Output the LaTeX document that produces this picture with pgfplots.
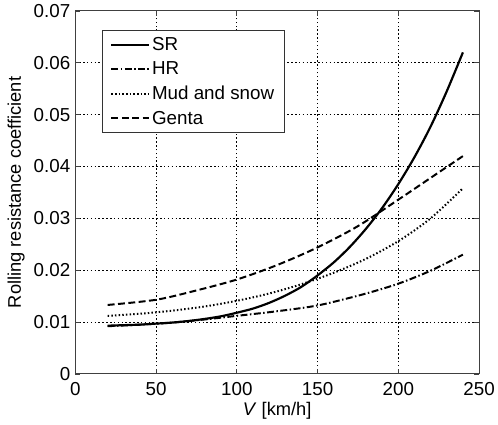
\documentclass[border=0pt]{standalone}
\usepackage{fontspec}
\setmainfont{Liberation Sans}
\usepackage{pgfplots}
\pgfplotsset{compat=1.18}
\begin{document}
\begin{tikzpicture}
\begin{axis}[
  scale only axis, width=407bp, height=366bp,
  xmin=0, xmax=250, ymin=0, ymax=0.07,
  scaled y ticks=false, scaled x ticks=false,
  xtick={0,50,100,150,200,250},
  xticklabels={0,50,100,150,200,250},
  ytick={0,0.01,0.02,0.03,0.04,0.05,0.06,0.07},
  yticklabels={0,0.01,0.02,0.03,0.04,0.05,0.06,0.07},
  tick label style={font=\fontsize{19}{20}\selectfont, text=black},
  yticklabel style={inner xsep=0pt, xshift=-5bp},
  xticklabel style={inner ysep=0pt, yshift=-8bp},
  label style={font=\fontsize{18.5}{20}\selectfont},
  xlabel={\textit{V} [km/h]},
  xlabel style={at={(rel axis cs:0.5,0)}, anchor=north, inner sep=0pt, yshift=-28bp},
  ylabel={Rolling resistance coefficient},
  ylabel style={at={(rel axis cs:0,0.5)}, rotate=0, anchor=south, inner sep=0pt, yshift=51bp},
  grid=major,
  major grid style={black, line width=1.1pt, dash pattern=on 1.5pt off 2.4pt},
  axis line style={line width=1.1pt, black!75},
  tick align=inside, major tick length=5bp,
  tick style={black!75, line width=0.8pt},
  legend style={at={(0.066,0.948)}, anchor=north west, draw=black!80, line width=1pt,
    font=\fontsize{19}{21}\selectfont, row sep=6bp, inner xsep=8bp, inner ysep=5bp,
    cells={anchor=west}},
  legend image code/.code={\draw[#1, line width=2pt] (0bp,0bp) -- (38bp,0bp);},
]
\addplot[black, line width=2.2pt, smooth] coordinates {
(20,0.0093)(30,0.0094)(40,0.0095)(50,0.0097)(60,0.0099)(70,0.0102)(80,0.0106)(90,0.0111)(100,0.0118)(110,0.0126)(120,0.0137)(130,0.0151)(140,0.0168)(150,0.0190)(160,0.0215)(170,0.0245)(180,0.0280)(190,0.0320)(200,0.0366)(210,0.0418)(220,0.0477)(230,0.0545)(240,0.0620)};
\addlegendentry{SR}
\addplot[black, line width=2pt, smooth, dash pattern=on 7pt off 2.5pt on 1.5pt off 2.5pt] coordinates {
(20,0.0092)(40,0.0095)(60,0.0099)(80,0.0105)(100,0.0112)(120,0.0119)(140,0.0127)(150,0.0132)(160,0.0139)(180,0.0155)(200,0.0174)(220,0.0199)(240,0.0230)};
\addlegendentry{HR}
\addplot[black, line width=2pt, smooth, dash pattern=on 1.5pt off 2.2pt] coordinates {
(20,0.0112)(40,0.0116)(60,0.0122)(80,0.0130)(100,0.0141)(120,0.0155)(140,0.0173)(160,0.0195)(180,0.0222)(200,0.0256)(220,0.0300)(240,0.0358)};
\addlegendentry{Mud and snow}
\addplot[black, line width=2pt, smooth, dash pattern=on 7pt off 3.5pt] coordinates {
(20,0.0133)(50,0.0143)(75,0.0161)(100,0.0182)(125,0.0210)(150,0.0244)(175,0.0285)(200,0.0336)(220,0.0378)(240,0.0420)};
\addlegendentry{Genta}
\end{axis}
\path (current axis.south west) +(-76bp,-51bp) (current axis.north east) +(15bp,11bp);
\end{tikzpicture}
\end{document}
